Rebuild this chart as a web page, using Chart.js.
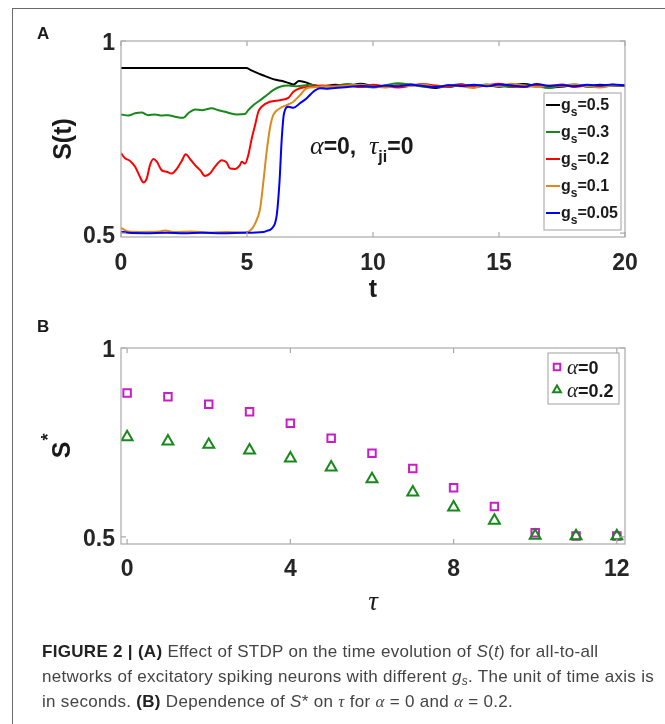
<!DOCTYPE html>
<html>
<head>
<meta charset="utf-8">
<script src="https://cdn.jsdelivr.net/npm/chart.js@4.4.1/dist/chart.umd.min.js"></script>
<style>
  body { margin: 0; background: #fff; width: 665px; height: 724px; overflow: hidden; position: relative; }
  #frame { position: absolute; left: 12px; top: 8px; width: 700px; height: 760px; border-left: 1.5px solid #6b6b6b; border-top: 1.5px solid #6b6b6b; }
  #chartA { position: absolute; left: 0; top: 0; }
  #chartB { position: absolute; left: 0; top: 300px; }
  #caption { position: absolute; left: 42px; top: 639px; font-family: "Liberation Sans", Arial, sans-serif; font-size: 17px; letter-spacing: 0.3px; line-height: 25px; color: #444; white-space: nowrap; }
  #caption b { color: #222; }
  #caption .m { font-family: "Liberation Serif", serif; font-style: italic; }
  #caption sub { font-size: 12px; line-height: 0; vertical-align: -3px; }
</style>
</head>
<body>
<div id="frame"></div>
<canvas id="chartA" width="665" height="310"></canvas>
<canvas id="chartB" width="665" height="340"></canvas>
<div id="caption"><b>FIGURE 2 | (A)</b> Effect of STDP on the time evolution of <i>S</i>(<i>t</i>) for all-to-all<br>networks of excitatory spiking neurons with different <i>g<sub>s</sub></i>. The unit of time axis is<br>in seconds. <b>(B)</b> Dependence of <i>S</i>* on <span class="m">τ</span> for <span class="m">α</span> = 0 and <span class="m">α</span> = 0.2.</div>
<script>
// ---- panel A: S(t) ----
// times after the transient, shared by all five traces
const tSteady = [8.5, 9, 9.5, 10, 10.5, 11, 11.5, 12, 12.5, 13, 13.5, 14, 14.5, 15, 15.5, 16, 16.5, 17, 17.5, 18, 18.5, 19, 19.5, 20]

const tBlack = [0, 4.98, 5.13, 5.4, 5.63, 5.9, 6.14, 6.4, 6.64, 6.85, 7.06, 7.3, 7.65, 8.0]
const sBlack = [0.930, 0.930, 0.925, 0.917, 0.911, 0.904, 0.899, 0.896, 0.891, 0.887, 0.896, 0.893, 0.885, 0.882]
const sBlackSteady = [0.886, 0.884, 0.889, 0.883, 0.880, 0.885, 0.887, 0.882, 0.878, 0.884, 0.887, 0.883, 0.885, 0.881, 0.886, 0.888, 0.883, 0.879, 0.881, 0.885, 0.882, 0.886, 0.884, 0.883]

const tGreen = [0, 0.29, 0.56, 0.82, 1.08, 1.35, 1.61, 1.88, 2.14, 2.47, 2.67, 2.94, 3.2, 3.6, 3.86, 4.13, 4.33, 4.59, 4.92, 5.05, 5.25, 5.52, 5.78, 6.04, 6.31, 6.64, 7.0, 7.5, 8.0]
const sGreen = [0.809, 0.806, 0.812, 0.814, 0.807, 0.809, 0.806, 0.807, 0.803, 0.800, 0.812, 0.822, 0.820, 0.825, 0.820, 0.816, 0.812, 0.809, 0.810, 0.820, 0.833, 0.846, 0.859, 0.872, 0.881, 0.884, 0.882, 0.886, 0.881]
const sGreenSteady = [0.883, 0.888, 0.882, 0.879, 0.885, 0.890, 0.886, 0.881, 0.884, 0.880, 0.886, 0.883, 0.887, 0.884, 0.880, 0.885, 0.882, 0.878, 0.884, 0.887, 0.881, 0.880, 0.885, 0.882]

const tRed = [0, 0.16, 0.36, 0.56, 0.75, 0.89, 1.02, 1.15, 1.29, 1.42, 1.61, 1.81, 2.01, 2.22, 2.41, 2.57, 2.74, 2.94, 3.14, 3.33, 3.53, 3.73, 4.0, 4.19, 4.33, 4.52, 4.72, 4.79, 4.92, 5.05, 5.19, 5.32, 5.45, 5.58, 5.91, 6.31, 6.64, 6.84, 7.1, 7.5, 8.0]
const sRed = [0.708, 0.695, 0.688, 0.673, 0.647, 0.632, 0.642, 0.677, 0.693, 0.686, 0.664, 0.660, 0.655, 0.668, 0.688, 0.705, 0.693, 0.677, 0.664, 0.649, 0.655, 0.673, 0.690, 0.684, 0.668, 0.667, 0.677, 0.686, 0.681, 0.703, 0.747, 0.781, 0.816, 0.829, 0.842, 0.846, 0.852, 0.868, 0.877, 0.881, 0.884]
const sRedSteady = [0.882, 0.885, 0.880, 0.886, 0.882, 0.879, 0.884, 0.888, 0.883, 0.881, 0.887, 0.880, 0.884, 0.889, 0.882, 0.880, 0.886, 0.883, 0.887, 0.880, 0.884, 0.881, 0.886, 0.884]

const tOrange = [0, 0.3, 0.8, 1.5, 1.75, 2.1, 2.8, 3.5, 4.2, 4.9, 5.12, 5.32, 5.52, 5.65, 5.78, 5.91, 6.04, 6.31, 6.57, 6.84, 7.1, 7.37, 7.76, 8.0]
const sOrange = [0.514, 0.504, 0.503, 0.504, 0.507, 0.503, 0.504, 0.502, 0.503, 0.502, 0.506, 0.525, 0.564, 0.634, 0.712, 0.773, 0.807, 0.825, 0.833, 0.842, 0.859, 0.877, 0.880, 0.882]
const sOrangeSteady = [0.881, 0.884, 0.886, 0.882, 0.879, 0.884, 0.883, 0.887, 0.880, 0.885, 0.882, 0.878, 0.886, 0.883, 0.889, 0.884, 0.880, 0.885, 0.882, 0.887, 0.883, 0.879, 0.884, 0.885]

const tBlue = [0, 0.3, 1.0, 1.8, 2.5, 3.2, 4.0, 4.8, 5.65, 5.78, 5.98, 6.18, 6.29, 6.38, 6.47, 6.64, 6.84, 7.1, 7.37, 7.63, 7.9, 8.2]
const sBlue = [0.504, 0.501, 0.500, 0.501, 0.500, 0.501, 0.500, 0.501, 0.503, 0.506, 0.512, 0.547, 0.634, 0.747, 0.812, 0.829, 0.826, 0.838, 0.851, 0.868, 0.877, 0.876]
const sBlueSteady = [0.878, 0.880, 0.883, 0.881, 0.884, 0.882, 0.886, 0.883, 0.880, 0.885, 0.883, 0.886, 0.882, 0.887, 0.884, 0.881, 0.888, 0.883, 0.885, 0.882, 0.886, 0.884, 0.887, 0.885]

const gsLabels = ['0.5', '0.3', '0.2', '0.1', '0.05']
const ticksAx = [0, 5, 10, 15, 20]
const ticksAy = [0.5, 1]

// ---- panel B: S* against tau ----
const tau = [0, 1, 2, 3, 4, 5, 6, 7, 8, 9, 10, 11, 12]
const sAlpha0 = [0.881, 0.871, 0.851, 0.831, 0.801, 0.761, 0.721, 0.681, 0.630, 0.580, 0.511, 0.502, 0.502]
const sAlpha02 = [0.764, 0.753, 0.744, 0.729, 0.708, 0.684, 0.653, 0.618, 0.578, 0.543, 0.503, 0.502, 0.502]
const ticksBx = [0, 4, 8, 12]
const ticksBy = [0.5, 1]

const lineColors = ['#000000', '#17881a', '#ff0000', '#dc8a1e', '#0000ff']
const SANS = '"Liberation Sans", Arial, sans-serif'
const SERIF = '"Liberation Serif", "Times New Roman", serif'

function pts(xs, ys) {
    return xs.map((x, i) => ({ x: x, y: ys[i] }))
}

// writes pieces of text one after another: [text, font, dy]
function richText(ctx, x, y, parts) {
    let cx = x
    parts.forEach(p => {
        ctx.font = p[1]
        ctx.fillText(p[0], cx, y + (p[2] || 0))
        cx += ctx.measureText(p[0]).width
    })
    return cx
}

// grey box round the axes and matlab style inward ticks
function drawBox(chart, xt, yt) {
    const ctx = chart.ctx, a = chart.chartArea
    const x = chart.scales.x, y = chart.scales.y
    ctx.save()
    ctx.strokeStyle = '#a9a9a9'
    ctx.lineWidth = 1.2
    ctx.strokeRect(a.left, a.top, a.right - a.left, a.bottom - a.top)
    ctx.beginPath()
    xt.forEach(v => {
        const px = x.getPixelForValue(v)
        ctx.moveTo(px, a.bottom); ctx.lineTo(px, a.bottom - 5)
        ctx.moveTo(px, a.top); ctx.lineTo(px, a.top + 5)
    })
    yt.forEach(v => {
        const py = y.getPixelForValue(v)
        ctx.moveTo(a.left, py); ctx.lineTo(a.left + 5, py)
        ctx.moveTo(a.right, py); ctx.lineTo(a.right - 5, py)
    })
    ctx.stroke()
    ctx.restore()
}

function tickScale(min, max, list) {
    return {
        type: 'linear', min: min, max: max,
        grid: { display: false, drawTicks: false },
        border: { display: false },
        afterBuildTicks: s => { s.ticks = list.map(v => ({ value: v })) },
        ticks: {
            color: '#262626', font: { family: SANS, weight: 'bold', size: 23 },
            callback: v => String(v)
        }
    }
}

const panelA = {
    id: 'panelA',
    afterDatasetsDraw(chart) {
        const ctx = chart.ctx, a = chart.chartArea
        drawBox(chart, ticksAx, ticksAy)
        ctx.save()
        ctx.fillStyle = '#1a1a1a'
        ctx.textBaseline = 'alphabetic'
        ctx.textAlign = 'left'
        // panel letter
        ctx.font = 'bold 17px ' + SANS
        ctx.fillText('A', 37, 39)
        // annotation alpha=0, tau_ji=0
        const ax = chart.scales.x.getPixelForValue(7.5)
        const ay = chart.scales.y.getPixelForValue(0.727) + 8
        richText(ctx, ax, ay, [
            ['α', 'italic 26px ' + SERIF], ['=0,  ', 'bold 23px ' + SANS],
            ['τ', 'italic 26px ' + SERIF], ['ji', 'bold 16px ' + SANS, 8],
            ['=0', 'bold 23px ' + SANS]
        ])
        // legend
        const lx = a.right - 81, ly = a.top + 52
        ctx.fillStyle = '#fff'
        ctx.fillRect(lx, ly, 77, 137)
        ctx.strokeStyle = '#a0a0a0'
        ctx.lineWidth = 1
        ctx.strokeRect(lx, ly, 77, 137)
        gsLabels.forEach((lab, i) => {
            const ry = ly + 12 + i * 27
            ctx.strokeStyle = lineColors[i]
            ctx.lineWidth = 2
            ctx.beginPath(); ctx.moveTo(lx + 2, ry); ctx.lineTo(lx + 16, ry); ctx.stroke()
            ctx.fillStyle = '#1a1a1a'
            richText(ctx, lx + 17, ry + 5, [
                ['g', 'bold 16px ' + SANS], ['s', 'bold 12px ' + SANS, 6], ['=' + lab, 'bold 16px ' + SANS]
            ])
        })
        // axis titles
        ctx.textAlign = 'center'
        ctx.textBaseline = 'middle'
        ctx.font = 'bold 25px ' + SANS
        ctx.fillText('t', (a.left + a.right) / 2, 290)
        ctx.translate(64, (a.top + a.bottom) / 2)
        ctx.rotate(-Math.PI / 2)
        ctx.fillText('S(t)', 0, 0)
        ctx.restore()
    }
}

const panelB = {
    id: 'panelB',
    afterDatasetsDraw(chart) {
        const ctx = chart.ctx, a = chart.chartArea
        drawBox(chart, ticksBx, ticksBy)
        ctx.save()
        ctx.fillStyle = '#1a1a1a'
        ctx.textBaseline = 'alphabetic'
        ctx.textAlign = 'left'
        ctx.font = 'bold 17px ' + SANS
        ctx.fillText('B', 37, 32)
        // legend
        const lx = a.right - 77, ly = a.top + 5
        ctx.fillStyle = '#fff'
        ctx.fillRect(lx, ly, 71, 51)
        ctx.strokeStyle = '#a0a0a0'
        ctx.lineWidth = 1
        ctx.strokeRect(lx, ly, 71, 51)
        const sets = chart.data.datasets
        const names = ['0', '0.2']
        names.forEach((n, i) => {
            const ry = ly + 14 + i * 23
            const ds = sets[i]
            ctx.fillStyle = 'rgba(0,0,0,0)'
            ctx.strokeStyle = ds.borderColor
            ctx.lineWidth = 2
            Chart.helpers.drawPoint(ctx, { pointStyle: ds.pointStyle, radius: 4.6, borderWidth: 2 }, lx + 9, ry)
            ctx.fillStyle = '#1a1a1a'
            richText(ctx, lx + 19, ry + 7, [['α', 'italic 21px ' + SERIF], ['=' + n, 'bold 18px ' + SANS]])
        })
        // axis titles
        ctx.textAlign = 'center'
        ctx.textBaseline = 'middle'
        ctx.font = 'italic 27px ' + SERIF
        ctx.fillText('τ', (a.left + a.right) / 2, 303)
        ctx.translate(63, 150)
        ctx.rotate(-Math.PI / 2)
        ctx.font = 'bold 25px ' + SANS
        ctx.fillText('S', 0, 0)
        ctx.font = 'bold 18px ' + SANS
        ctx.fillText('*', 13, -14)
        ctx.restore()
    }
}

const scalesA = { x: tickScale(0, 20, ticksAx), y: tickScale(0.49, 1, ticksAy) }
scalesA.x.ticks.padding = 13
scalesA.x.afterFit = s => { s.height = 73 }
scalesA.y.ticks.padding = 6
scalesA.y.ticks.labelOffset = 3
scalesA.y.afterFit = s => { s.width = 121 }

const traces = [
    pts(tBlack.concat(tSteady), sBlack.concat(sBlackSteady)),
    pts(tGreen.concat(tSteady), sGreen.concat(sGreenSteady)),
    pts(tRed.concat(tSteady), sRed.concat(sRedSteady)),
    pts(tOrange.concat(tSteady), sOrange.concat(sOrangeSteady)),
    pts(tBlue.concat(tSteady), sBlue.concat(sBlueSteady))
]

new Chart(document.getElementById('chartA'), {
    type: 'line',
    data: {
        datasets: traces.map((d, i) => ({
            label: 'gs=' + gsLabels[i],
            data: d,
            borderColor: lineColors[i],
            borderWidth: 2,
            pointRadius: 0,
            cubicInterpolationMode: 'monotone',
            order: 4 - i
        }))
    },
    options: {
        responsive: false,
        animation: false,
        layout: { padding: { top: 41, right: 40, left: 0, bottom: 0 } },
        scales: scalesA,
        plugins: { legend: { display: false }, tooltip: { enabled: false } }
    },
    plugins: [panelA]
})

const scalesB = { x: tickScale(-0.15, 12.2, ticksBx), y: tickScale(0.481, 1, ticksBy) }
scalesB.x.ticks.padding = 12
scalesB.x.afterFit = s => { s.height = 96 }
scalesB.y.ticks.padding = 6
scalesB.y.ticks.labelOffset = 3
scalesB.y.afterFit = s => { s.width = 121 }

new Chart(document.getElementById('chartB'), {
    type: 'scatter',
    data: {
        datasets: [
            {
                label: 'alpha=0', data: pts(tau, sAlpha0),
                pointStyle: 'rect', pointRadius: 5.3, borderWidth: 2,
                borderColor: '#c81ec8', backgroundColor: 'rgba(0,0,0,0)', order: 1
            },
            {
                label: 'alpha=0.2', data: pts(tau, sAlpha02),
                pointStyle: 'triangle', pointRadius: 6.3, borderWidth: 2,
                borderColor: '#17881a', backgroundColor: 'rgba(0,0,0,0)', order: 0
            }
        ]
    },
    options: {
        responsive: false,
        animation: false,
        layout: { padding: { top: 48, right: 40, left: 0, bottom: 0 } },
        scales: scalesB,
        plugins: { legend: { display: false }, tooltip: { enabled: false } }
    },
    plugins: [panelB]
})
</script>
</body>
</html>
